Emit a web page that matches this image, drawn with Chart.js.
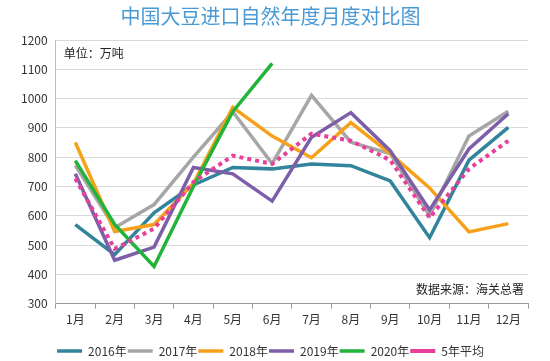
<!DOCTYPE html>
<html><head><meta charset="utf-8">
<script src="https://cdn.jsdelivr.net/npm/chart.js@4"></script>
<style>html,body{margin:0;padding:0;background:#fff}#wrap{width:550px;height:361px}</style>
</head><body><div id="wrap"><canvas id="c"></canvas></div>
<script>
const months = ['1月','2月','3月','4月','5月','6月','7月','8月','9月','10月','11月','12月'];
const y2016 = [570, 467, 610, 705, 765, 760, 777, 771, 719, 525, 790, 902];
const y2017 = [772, 559, 638, 800, 955, 778, 1011, 851, 812, 600, 872, 957];
const y2018 = [850, 546, 570, 710, 970, 872, 798, 918, 812, 695, 545, 573];
const y2019 = [743, 448, 493, 765, 743, 650, 868, 952, 822, 620, 828, 948];
const y2020 = [788, 570, 427, 700, 955, 1120, null, null, null, null, null, null];
const avg5 = [727, 487, 556, 715, 805, 777, 880, 856, 790, 593, 760, 856];
const seriesNames = ['2016年','2017年','2018年','2019年','2020年','5年平均'];
const yTicks = [300, 400, 500, 600, 700, 800, 900, 1000, 1100, 1200];

const FONT = '"Noto Sans CJK SC", "Noto Sans", sans-serif';
const colors = ['#31849b', '#a6a6a6', '#f7a11a', '#7d5ea8', '#22b33a', '#e8409a'];
const data = [y2016, y2017, y2018, y2019, y2020, avg5];

const textPlugin = {
  id: 'notes',
  afterDraw(chart) {
    const {ctx, chartArea} = chart;
    ctx.save();
    ctx.font = '12px ' + FONT;
    ctx.fillStyle = '#222';
    ctx.textBaseline = 'middle';
    ctx.textAlign = 'left';
    ctx.fillText('单位：万吨', chartArea.left + 8, chartArea.top + 13);
    ctx.textAlign = 'right';
    ctx.fillText('数据来源：海关总署', chartArea.right - 4, chartArea.bottom - 14);
    ctx.restore();
  }
};

new Chart(document.getElementById('c'), {
  type: 'line',
  data: {
    labels: months,
    datasets: data.map((d, i) => ({
      label: seriesNames[i],
      data: d,
      borderColor: colors[i],
      backgroundColor: colors[i],
      borderWidth: i === 5 ? 4 : 3.5,
      borderDash: i === 5 ? [4, 4] : [],
      pointRadius: 0,
      tension: 0,
      spanGaps: false,
      order: i === 5 ? 0 : 6 - i
    }))
  },
  options: {
    responsive: true,
    maintainAspectRatio: false,
    animation: false,
    layout: { padding: { left: 13, right: 22, top: 0, bottom: -6 } },
    plugins: {
      title: {
        display: true,
        text: '中国大豆进口自然年度月度对比图',
        color: '#4a9ad6',
        font: { family: FONT, size: 20, weight: 'normal' },
        padding: { top: 4, bottom: 12 }
      },
      legend: {
        position: 'bottom',
        labels: {
          usePointStyle: true,
          pointStyle: 'line',
          pointStyleWidth: 25,
          color: '#333',
          font: { family: FONT, size: 12 },
          padding: 1,
          boxHeight: 12,
          sort: (a, b) => a.datasetIndex - b.datasetIndex
        }
      },
      tooltip: { enabled: false }
    },
    scales: {
      x: {
        offset: true,
        afterFit: (s) => { s.height += 13; },
        grid: { display: true, drawOnChartArea: false, offset: true, tickLength: 5, color: '#999' },
        border: { display: true, color: '#999' },
        ticks: { color: '#333', font: { family: FONT, size: 12 }, padding: 4, maxRotation: 0 }
      },
      y: {
        min: 300, max: 1200,
        afterBuildTicks: (s) => { s.ticks = yTicks.map(v => ({ value: v })); },
        grid: { color: '#d9d9d9', drawTicks: false },
        border: { display: true, color: '#bbb' },
        ticks: { color: '#333', font: { family: FONT, size: 12 }, padding: 8, callback: (v) => String(v) }
      }
    }
  },
  plugins: [textPlugin]
});
</script></body></html>
